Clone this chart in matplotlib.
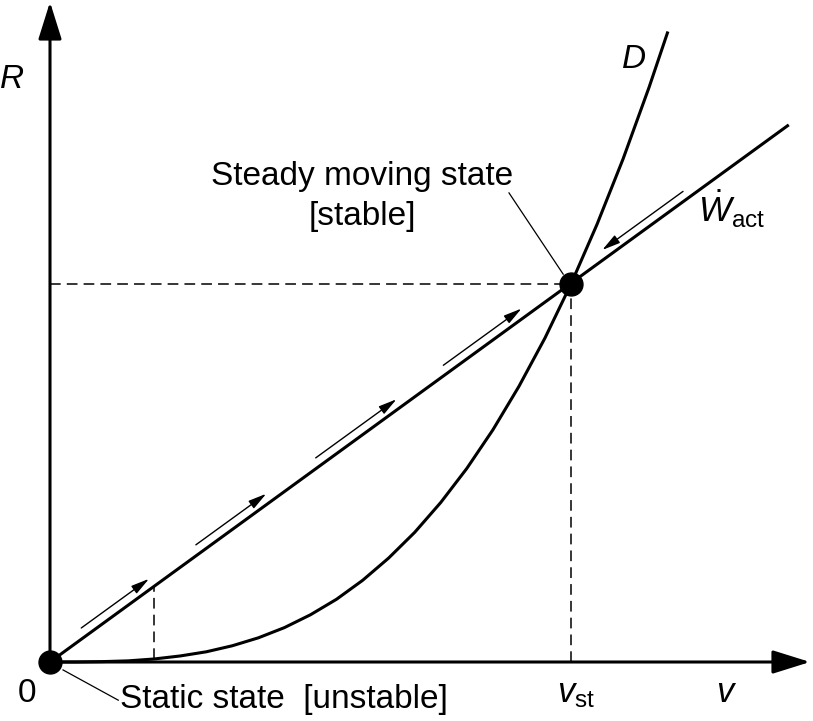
import numpy as np
from matplotlib import pyplot as plt

plt.rcParams['font.family'] = ['Liberation Sans', 'DejaVu Sans']
plt.rcParams['mathtext.fontset'] = 'custom'
plt.rcParams['mathtext.rm'] = 'Liberation Sans'
plt.rcParams['mathtext.it'] = 'Liberation Sans:italic'

# steady point (normalised units)
V_ST = 1.0
R_ST = 1.0

# actuator power line W_act
act_v = [0.0, 1.418]
act_R = [0.0, 1.421]

# drag curve D
d_v = [0.0, 0.05, 0.1, 0.15, 0.2, 0.25, 0.3, 0.35, 0.4, 0.45, 0.5, 0.55, 0.6,
       0.65, 0.7, 0.75, 0.8, 0.85, 0.9, 0.95, 1.0, 1.05, 1.1, 1.15, 1.186]
d_R = [0.0, 0.000, 0.001, 0.003, 0.008, 0.016, 0.027, 0.043, 0.064, 0.091,
       0.125, 0.166, 0.216, 0.275, 0.343, 0.422, 0.512, 0.614, 0.729, 0.857,
       1.0, 1.158, 1.331, 1.521, 1.668]

# little flow arrows along W_act (tail v, tip v)
flow = [(0.06, 0.19), (0.28, 0.415), (0.51, 0.665), (0.755, 0.905), (1.215, 1.06)]
FLOW_OFF = 0.03

# small dashed marker
V_MARK = 0.2

fig = plt.figure(figsize=(8.13, 7.21), dpi=100)
ax = fig.add_axes([0, 0, 1, 1])
ax.set_xlim(-50/521, 763/521)
ax.set_ylim(-59/378, 662/378)
ax.axis('off')

## axes with arrows
arr = dict(arrowstyle='-|>,head_length=2.3,head_width=0.72', lw=2.2, color='k',
           shrinkA=0, shrinkB=0, mutation_scale=10)
ax.annotate('', xy=(760/521, 0), xytext=(0, 0), arrowprops=arr)
ax.annotate('', xy=(0, 660/378), xytext=(0, 0), arrowprops=arr)

## curves
ax.plot(act_v, act_R, color='k', lw=2.2, solid_capstyle='butt')
ax.plot(d_v, d_R, color='k', lw=2.2, solid_capstyle='butt')

## dashed guides
dash = dict(color='k', lw=1.1, dashes=(7, 4))
ax.plot([0, V_ST], [R_ST, R_ST], **dash)
ax.plot([V_ST, V_ST], [0, R_ST], **dash)
ax.plot([V_MARK, V_MARK], [V_MARK**3, V_MARK], **dash)

## flow arrows
for t, h in flow:
    ax.annotate('', xy=(h, h + FLOW_OFF), xytext=(t, t + FLOW_OFF),
                arrowprops=dict(arrowstyle='-|>,head_length=1.1,head_width=0.28',
                                lw=1.0, color='k', shrinkA=0, shrinkB=0,
                                mutation_scale=10))

## states
ax.plot([0, V_ST], [0, R_ST], 'o', color='k', markersize=16.5, ls='none', zorder=5)

## leader lines
ax.plot([0.881, 0.985], [1.241, 1.026], color='k', lw=0.9)
ax.plot([0.025, 0.131], [-0.021, -0.101], color='k', lw=0.9)

## labels
fs = 24
ax.text(0.599, 1.262, 'Steady moving state', fontsize=fs, ha='center', va='baseline')
ax.text(0.599, 1.156, '[stable]', fontsize=fs, ha='center', va='baseline')
ax.text(0.134, -0.122, 'Static state  [unstable]', fontsize=fs, ha='left', va='baseline')
ax.text(-0.044, -0.106, '0', fontsize=fs, ha='center', va='baseline')
ax.text(-0.073, 1.519, 'R', fontsize=fs, style='italic', ha='center', va='baseline')
ax.text(1.121, 1.571, 'D', fontsize=fs, style='italic', ha='center', va='baseline')
ax.text(1.244, 1.164, r'$\dot{W}_{\mathrm{act}}$', fontsize=25, ha='left', va='baseline')
ax.text(0.973, -0.106, r'$v_{\mathrm{st}}$', fontsize=25, ha='left', va='baseline')
ax.text(1.299, -0.106, r'$v$', fontsize=25, ha='center', va='baseline')

fig.savefig('out.png', dpi=100)
